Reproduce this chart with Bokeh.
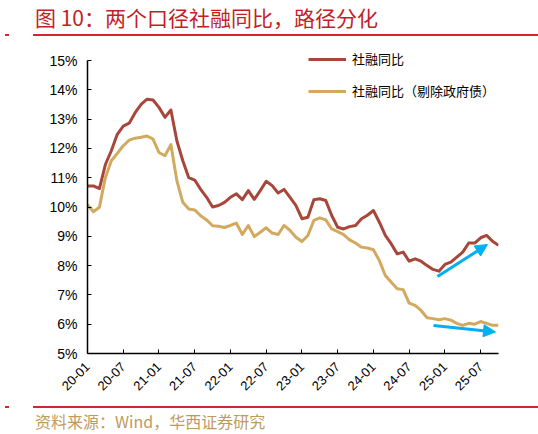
import math
import pandas as pd
from bokeh.plotting import figure
from bokeh.layouts import column
from bokeh.models import (FixedTicker, PrintfTickFormatter, Legend, LegendItem,
                          Arrow, NormalHead, Div)
from bokeh.embed import file_html
from bokeh.resources import INLINE

# ---------------- data ----------------
months = list(pd.period_range("2020-01", "2025-10", freq="M").strftime("%y-%m"))

tsf_yoy = [10.72, 10.72, 10.63, 11.45, 11.92, 12.48, 12.76, 12.86, 13.22, 13.50,
           13.68, 13.65, 13.40, 13.06, 13.31, 12.26, 11.58, 11.00, 10.92, 10.60,
           10.33, 10.00, 10.05, 10.16, 10.33, 10.45, 10.25, 10.56, 10.26, 10.56,
           10.88, 10.73, 10.48, 10.60, 10.33, 10.05, 9.60, 9.65, 10.25, 10.28,
           10.22, 9.71, 9.31, 9.25, 9.33, 9.37, 9.60, 9.72, 9.88, 9.48,
           9.03, 8.74, 8.40, 8.46, 8.15, 8.23, 8.15, 8.00, 7.87, 7.81,
           8.04, 8.12, 8.29, 8.46, 8.77, 8.77, 8.95, 9.03, 8.83, 8.69]

tsf_ex_gov_yoy = [10.08, 9.84, 9.99, 11.01, 11.58, 11.83, 12.09, 12.28, 12.35, 12.38,
                  12.42, 12.32, 11.86, 11.75, 12.13, 10.90, 10.16, 9.93, 9.90, 9.70,
                  9.56, 9.36, 9.34, 9.30, 9.37, 9.45, 9.06, 9.37, 8.99, 9.14,
                  9.29, 9.11, 9.06, 9.37, 9.20, 8.97, 8.82, 9.03, 9.54, 9.63,
                  9.56, 9.25, 9.16, 9.06, 8.88, 8.77, 8.63, 8.60, 8.54, 8.17,
                  7.66, 7.43, 7.21, 7.18, 6.72, 6.64, 6.47, 6.22, 6.19, 6.15,
                  6.19, 6.14, 6.03, 5.96, 6.03, 6.00, 6.09, 6.03, 5.96, 5.96]

x_tick_labels = ["20-01", "20-07", "21-01", "21-07", "22-01", "22-07",
                 "23-01", "23-07", "24-01", "24-07", "25-01", "25-07"]
y_ticks = [5, 6, 7, 8, 9, 10, 11, 12, 13, 14, 15]

series_names = ["社融同比", "社融同比（剔除政府债）"]
title_text = "图 10：两个口径社融同比，路径分化"
source_text = "资料来源：Wind，华西证券研究"

RED = "#A8463A"
TAN = "#D2A95E"
BLUE = "#00B0F0"
RULE = "#D0282E"
CJK = "Noto Sans CJK SC"

W = 538
HEAD_H, MAIN_H, FOOT_H = 42, 358, 34

# ---------------- header ----------------
head_html = (
    f'<div style="position:relative;width:{W}px;height:{HEAD_H}px;overflow:hidden;">'
    f'<div style="position:absolute;left:35px;top:2px;font-family:\'{CJK}\';font-size:21px;'
    f'line-height:30px;color:#C41E26;white-space:nowrap;">{title_text}</div>'
    f'<div style="position:absolute;left:33px;top:33.5px;width:{W - 33}px;height:2px;background:{RULE};"></div>'
    f'<div style="position:absolute;left:5px;top:33.5px;width:4px;height:2px;background:{RULE};"></div>'
    '</div>'
)
head = Div(text=head_html, width=W, height=HEAD_H, margin=0)

# ---------------- main chart ----------------
FL, FR = 87, 498
FT, FB = 50 - HEAD_H, 353 - HEAD_H
xs = list(range(len(months)))
X0, X1 = 0, len(months) - 1
PX_PER_PCT = (353 - 60) / 10.0
Y0, Y1 = 5, 15 + (60 - 50) / PX_PER_PCT

p = figure(width=W, height=MAIN_H, output_backend="svg", toolbar_location=None,
           x_range=(X0, X1), y_range=(Y0, Y1),
           min_border_left=FL, min_border_right=W - FR,
           min_border_top=FT, min_border_bottom=MAIN_H - FB)
p.outline_line_color = None
p.xgrid.visible = False
p.ygrid.visible = False
p.background_fill_color = "white"
p.border_fill_color = "white"


def px2x(px):
    return X0 + (px - FL) * (X1 - X0) / (FR - FL)


def py2y(py):
    return 15 - (py - 60) / PX_PER_PCT


r1 = p.line(xs, tsf_yoy, line_color=RED, line_width=3, line_join="round")
r2 = p.line(xs, tsf_ex_gov_yoy, line_color=TAN, line_width=3, line_join="round")

tick_pos = [months.index(l) for l in x_tick_labels]
p.xaxis.ticker = FixedTicker(ticks=tick_pos)
p.xaxis.major_label_overrides = {i: l for i, l in zip(tick_pos, x_tick_labels)}
p.xaxis.major_label_orientation = math.pi / 4
p.yaxis.ticker = FixedTicker(ticks=y_ticks)
p.yaxis.formatter = PrintfTickFormatter(format="%d%%")
p.yaxis.bounds = (5, 15)
for ax in (p.xaxis, p.yaxis):
    ax.axis_line_color = "#000000"
    ax.axis_line_width = 1.5
    ax.major_tick_line_color = "#000000"
    ax.major_tick_in = 4
    ax.major_tick_out = 0
    ax.minor_tick_line_color = None
    ax.major_label_text_font = "Liberation Sans"
    ax.major_label_text_color = "#000000"
p.xaxis.major_label_text_font_size = "13px"
p.yaxis.major_label_text_font_size = "14px"
p.yaxis.major_label_standoff = 10
p.xaxis.major_label_standoff = 11

legend = Legend(items=[LegendItem(label=series_names[0], renderers=[r1]),
                       LegendItem(label=series_names[1], renderers=[r2])],
                location=(221, 253), orientation="vertical",
                glyph_width=38, glyph_height=16, label_height=16,
                spacing=13, padding=0, margin=0, label_standoff=6,
                border_line_color=None, background_fill_alpha=0,
                label_text_font=CJK, label_text_font_size="13px",
                label_text_color="#000000")
p.add_layout(legend)

p.add_layout(Arrow(x_start=px2x(437), y_start=py2y(276), x_end=px2x(487), y_end=py2y(244),
                   line_color=BLUE, line_width=3,
                   end=NormalHead(size=12, fill_color=BLUE, line_color=BLUE)))
p.add_layout(Arrow(x_start=px2x(433), y_start=py2y(325), x_end=px2x(495), y_end=py2y(331.5),
                   line_color=BLUE, line_width=3,
                   end=NormalHead(size=12, fill_color=BLUE, line_color=BLUE)))

# ---------------- footer ----------------
foot_html = (
    f'<div style="position:relative;width:{W}px;height:{FOOT_H}px;overflow:hidden;">'
    f'<div style="position:absolute;left:33px;top:6px;width:{W - 33}px;height:2px;background:{RULE};"></div>'
    f'<div style="position:absolute;left:5px;top:6px;width:4px;height:2px;background:{RULE};"></div>'
    f'<div style="position:absolute;left:35px;top:11px;font-family:\'{CJK}\';font-size:16px;'
    f'line-height:20px;color:#BE9A5E;white-space:nowrap;">{source_text}</div>'
    '</div>'
)
foot = Div(text=foot_html, width=W, height=FOOT_H, margin=0)

layout = column(head, p, foot, spacing=0)
open("out.html", "w").write(file_html(layout, INLINE))
